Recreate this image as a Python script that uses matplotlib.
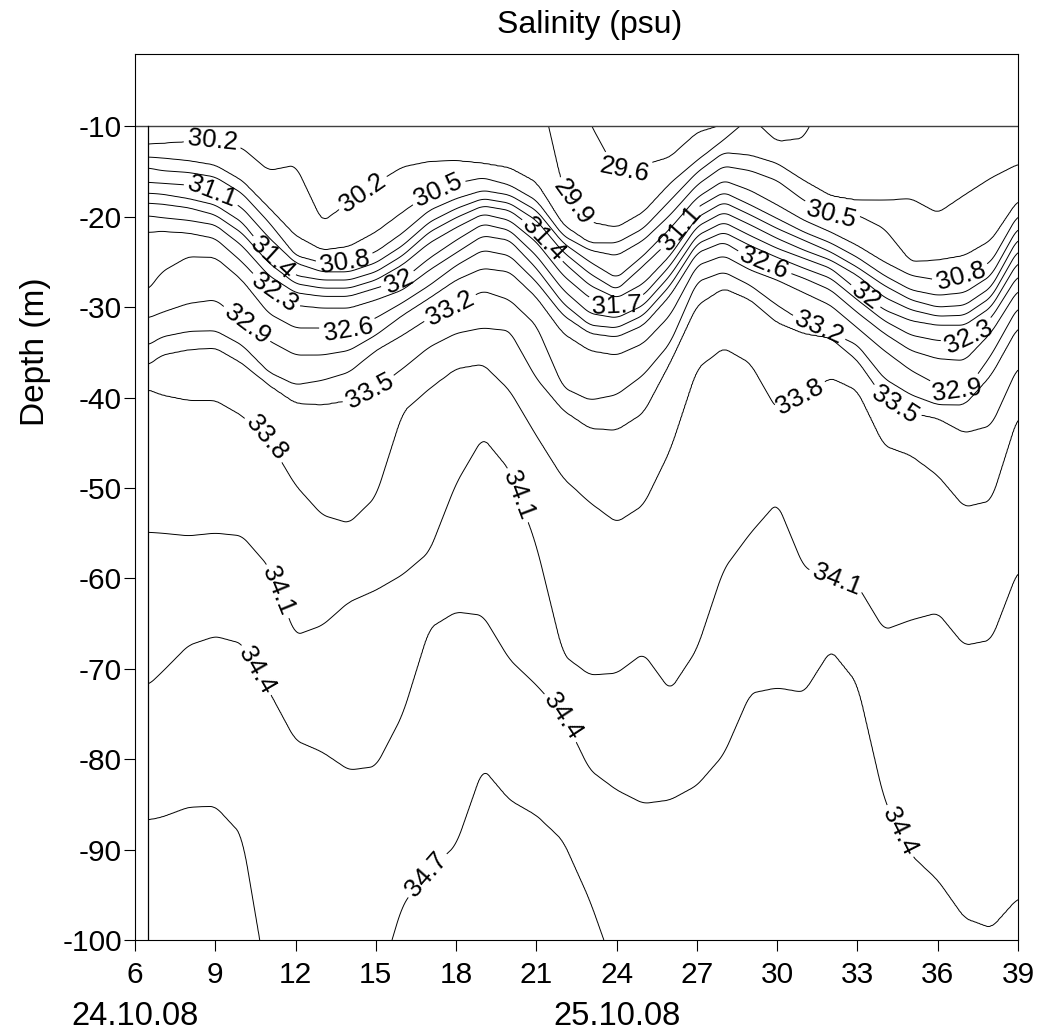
import numpy as np
import matplotlib.pyplot as plt

plt.rcParams["font.family"] = ["Liberation Sans", "DejaVu Sans"]
plt.rcParams["axes.unicode_minus"] = False

# time axis (hours) and salinity levels of the isolines
hours = [6.5, 7, 8, 9, 10, 11, 12, 13, 14, 15, 16, 17, 18, 19, 20, 21, 22,
         23, 24, 25, 26, 27, 28, 29, 30, 31, 32, 33, 34, 35, 36, 37, 38, 39]
levels = [29.6, 29.9, 30.2, 30.5, 30.8, 31.1, 31.4, 31.7, 32.0, 32.3,
          32.6, 32.9, 33.2, 33.5, 33.8, 34.1, 34.4, 34.7]

# depth (m) of each isohaline at each hour, read off the section
# (values < 10 or > 100 mean the line is outside the plotted depth range)
d_296 = [2.0] * 17 + [9.6, 15.1, 14.3, 13.4, 10.7, 9.8] + [2.0] * 11
d_299 = [5.0] * 15 + [4.0, 17.1, 20.6, 21.2, 19.5, 16.3, 13.8, 11.5, 9.0,
                      11.7, 11.3] + [5.0] * 8
d_302 = [12.0, 11.9, 11.7, 11.5, 12.4, 14.9, 14.3, 20.6, 18.4, 16.3, 14.5, 13.9,
         13.8, 14.1, 14.6, 16.2, 20.9, 22.9, 22.9, 21.3, 18.2, 15.1, 12.9, 13.2,
         14.1, 16.0, 17.7, 18.2, 18.2, 18.0, 19.6, 17.6, 15.7, 14.2]
d_305 = [13.4, 13.5, 13.8, 14.3, 16.0, 19.0, 22.1, 23.7, 23.3, 21.7, 19.5, 17.4,
         16.3, 15.7, 16.5, 18.2, 22.1, 23.7, 24.3, 22.6, 19.8, 16.5, 14.4, 14.9,
         16.0, 18.2, 19.8, 19.8, 21.3, 25.0, 24.8, 24.3, 22.6, 18.2]
d_308 = [14.6, 14.9, 15.1, 15.6, 17.4, 20.6, 24.3, 25.1, 25.0, 23.9, 21.8, 19.3,
         18.0, 17.1, 17.6, 19.3, 22.9, 25.0, 26.8, 24.3, 21.3, 17.9, 16.0, 17.1,
         18.7, 20.4, 21.7, 23.2, 25.0, 26.5, 27.0, 26.5, 25.0, 19.8]
d_311 = [16.2, 16.3, 16.5, 17.3, 19.0, 22.3, 25.1, 26.1, 26.1, 25.1, 23.2, 20.6,
         19.1, 18.0, 18.5, 20.4, 23.9, 26.3, 28.1, 25.4, 22.6, 19.0, 17.3, 18.7,
         20.2, 21.7, 22.9, 24.5, 26.5, 28.1, 28.7, 28.4, 26.5, 21.2]
d_314 = [17.4, 17.5, 18.0, 18.7, 20.6, 24.3, 26.5, 27.0, 27.0, 26.1, 24.3, 21.7,
         20.1, 18.8, 19.3, 21.5, 25.0, 27.6, 29.0, 27.4, 24.3, 20.1, 18.4, 19.8,
         21.3, 22.6, 23.9, 25.6, 27.6, 29.2, 30.0, 29.8, 27.8, 22.4]
d_317 = [18.5, 18.6, 19.0, 19.8, 21.8, 25.1, 27.4, 27.9, 27.9, 27.0, 25.3, 22.9,
         21.2, 19.7, 20.4, 22.8, 26.5, 29.0, 30.0, 28.7, 25.4, 21.1, 19.5, 20.9,
         22.4, 23.7, 24.8, 26.5, 28.9, 30.3, 31.0, 30.9, 28.9, 23.7]
d_320 = [19.9, 20.1, 20.4, 20.9, 23.2, 26.5, 28.4, 28.8, 28.8, 27.9, 27.0, 24.6,
         22.6, 20.8, 21.5, 24.3, 28.1, 30.7, 31.2, 29.8, 26.5, 22.1, 20.6, 22.1,
         23.5, 24.6, 25.7, 28.1, 30.3, 31.5, 32.0, 32.0, 30.0, 25.0]
d_323 = [21.7, 21.6, 21.8, 22.4, 25.0, 28.1, 29.8, 30.1, 30.1, 29.2, 28.1, 25.9,
         24.0, 22.1, 22.6, 25.7, 29.6, 32.0, 32.3, 30.9, 27.6, 23.0, 21.7, 23.2,
         24.5, 25.7, 26.8, 29.2, 31.5, 33.1, 33.7, 33.7, 31.2, 26.5]
d_326 = [28.1, 26.1, 24.4, 24.5, 27.0, 30.7, 32.3, 32.3, 32.6, 31.2, 29.5, 27.6,
         25.4, 23.7, 24.3, 27.2, 30.9, 32.9, 33.3, 32.0, 28.7, 24.0, 22.8, 24.6,
         25.7, 26.8, 28.1, 30.6, 32.9, 34.8, 35.7, 35.9, 32.8, 28.1]
d_329 = [31.2, 30.6, 29.6, 29.2, 31.5, 33.7, 35.3, 35.3, 34.8, 33.1, 30.9, 29.0,
         27.0, 25.7, 26.1, 28.9, 32.9, 34.8, 35.3, 34.0, 30.9, 25.4, 24.3, 25.9,
         27.0, 28.4, 29.8, 32.3, 34.8, 37.0, 38.6, 39.5, 35.3, 30.0]
d_332 = [34.2, 33.3, 32.7, 32.6, 34.2, 37.2, 38.6, 38.1, 37.2, 34.8, 33.1, 31.2,
         29.8, 28.2, 29.2, 32.0, 38.9, 40.3, 39.7, 37.5, 34.0, 27.2, 26.1, 27.6,
         29.8, 31.7, 32.8, 34.2, 37.9, 39.7, 40.8, 40.8, 37.5, 32.2]
d_335 = [36.4, 35.3, 34.7, 34.5, 36.2, 38.6, 40.6, 40.8, 40.3, 39.0, 36.8, 34.4,
         32.9, 32.3, 32.6, 37.9, 41.4, 43.4, 43.6, 41.7, 36.1, 29.8, 27.9, 29.2,
         31.7, 32.9, 33.4, 35.9, 40.1, 41.7, 42.3, 43.9, 43.1, 36.6]
d_338 = [39.1, 39.7, 40.3, 40.3, 42.0, 44.7, 49.7, 53.0, 53.9, 51.0, 41.6, 39.0,
         36.8, 36.3, 39.2, 44.2, 48.9, 51.6, 53.8, 51.9, 45.8, 36.8, 34.5, 36.2,
         41.4, 39.7, 37.8, 39.2, 45.3, 46.4, 48.6, 52.1, 51.4, 42.0]
d_341 = [54.9, 55.0, 55.3, 55.0, 55.3, 58.7, 66.3, 65.2, 62.6, 61.3, 59.6, 57.1,
         49.5, 44.4, 48.0, 56.3, 68.5, 70.7, 70.5, 68.3, 72.4, 67.9, 59.0, 55.0,
         51.6, 58.8, 60.0, 60.8, 65.7, 64.6, 63.8, 67.4, 66.8, 59.1]
d_344 = [71.8, 70.4, 67.4, 66.4, 67.2, 72.4, 77.9, 79.2, 81.2, 80.8, 75.1, 65.5,
         63.7, 64.1, 69.0, 71.8, 75.1, 81.2, 83.4, 84.9, 84.5, 82.9, 79.5, 72.7,
         72.1, 72.6, 67.9, 71.6, 84.5, 90.6, 93.4, 97.6, 98.7, 95.4]
d_347 = [86.7, 86.4, 85.3, 85.2, 88.4] + [106.0] * 5 + \
        [96.1, 92.3, 89.5, 81.0, 84.5, 86.2, 89.0, 95.6, 104.0] + [106.0] * 15

isolines = [d_296, d_299, d_302, d_305, d_308, d_311, d_314, d_317, d_320,
            d_323, d_326, d_329, d_332, d_335, d_338, d_341, d_344, d_347]

# contour labels: level, hour, depth
label_level = [30.2, 30.2, 31.1, 31.4, 30.8, 32.0, 32.3, 32.9, 32.6, 33.5,
               33.8, 30.5, 33.2, 29.9, 29.6, 31.4, 31.1, 31.7, 30.5, 32.6,
               32.0, 33.2, 30.8, 32.3, 32.9, 33.5, 33.8, 34.1, 34.4, 34.1,
               34.1, 34.4, 34.4, 34.7]
label_x = [8.9, 14.5, 8.8, 11.0, 13.85, 15.9, 11.0, 10.1, 14.0, 14.8,
           11.0, 17.3, 17.85, 22.4, 24.3, 21.1, 26.4, 24.0, 32.05, 29.5,
           33.4, 31.6, 36.9, 37.2, 36.7, 34.5, 30.9, 11.2, 10.5, 20.1,
           32.2, 22.1, 34.5, 16.9]
label_y = [-11.9, -17.3, -17.9, -25.0, -25.4, -27.6, -29.6, -32.2, -33.3, -39.5,
           -44.2, -16.9, -30.6, -18.4, -14.9, -22.9, -21.3, -30.0, -19.3, -25.3,
           -28.4, -32.0, -27.0, -33.4, -39.6, -40.3, -40.1, -61.6, -70.2, -51.1,
           -60.4, -75.1, -88.1, -92.8]

# build the salinity field from the isoline depths
xs = np.linspace(6.5, 39, 651)
zs = np.linspace(10, 100, 721)
dep = np.array([np.interp(xs, hours, d) for d in isolines])
# round off the corners a little (running mean over ~0.4 h)
win = np.ones(9) / 9
dep = np.array([np.convolve(np.pad(row, 4, mode="edge"), win, mode="valid")
                for row in dep])
lev_ext = np.r_[29.2, levels, 35.0]
sal = np.empty((len(zs), len(xs)))
for j in range(len(xs)):
    d = np.r_[0.0, dep[:, j], 120.0]
    d = np.maximum.accumulate(d) + np.arange(len(d)) * 1e-6
    sal[:, j] = np.interp(zs, d, lev_ext)

fig = plt.figure(figsize=(10.4, 10.36), dpi=100)
ax = fig.add_axes([135 / 1040, 96 / 1036, 883 / 1040, 886 / 1036])
ax.set_xlim(6, 39)
ax.set_ylim(-100, -2)

# one contour set per level so each label goes on its own isoline
for lev in levels:
    cs = ax.contour(xs, -zs, sal, levels=[lev], colors="k", linewidths=0.7)
    spots = [(x, y) for l, x, y in zip(label_level, label_x, label_y) if l == lev]
    if spots:
        ax.clabel(cs, manual=spots, inline=True, inline_spacing=4,
                  fmt="%g", fontsize=18.5)

# frame of the data area
ax.axhline(-10, color="0.25", lw=1.0)
ax.plot([6.5, 6.5], [-100, -10], color="k", lw=0.9)

ax.set_xticks(range(6, 40, 3))
ax.set_yticks(range(-10, -101, -10))
ax.tick_params(direction="out", length=8, width=0.8, labelsize=21.5)
ax.tick_params(axis="x", pad=7)
ax.tick_params(axis="y", pad=1.5)
for sp in ax.spines.values():
    sp.set_linewidth(0.8)

ax.text(6, -0.086, "24.10.08", transform=ax.get_xaxis_transform(),
        ha="center", va="center", fontsize=23.5, clip_on=False)
ax.text(24, -0.086, "25.10.08", transform=ax.get_xaxis_transform(),
        ha="center", va="center", fontsize=23.5, clip_on=False)
ax.text(0.515, 1.033, "Salinity (psu)", transform=ax.transAxes,
        ha="center", va="center", fontsize=23)
ax.text(-0.113, 0.664, "Depth (m)", transform=ax.transAxes, rotation=90,
        ha="center", va="center", fontsize=24)

fig.savefig("out.png", dpi=100)
